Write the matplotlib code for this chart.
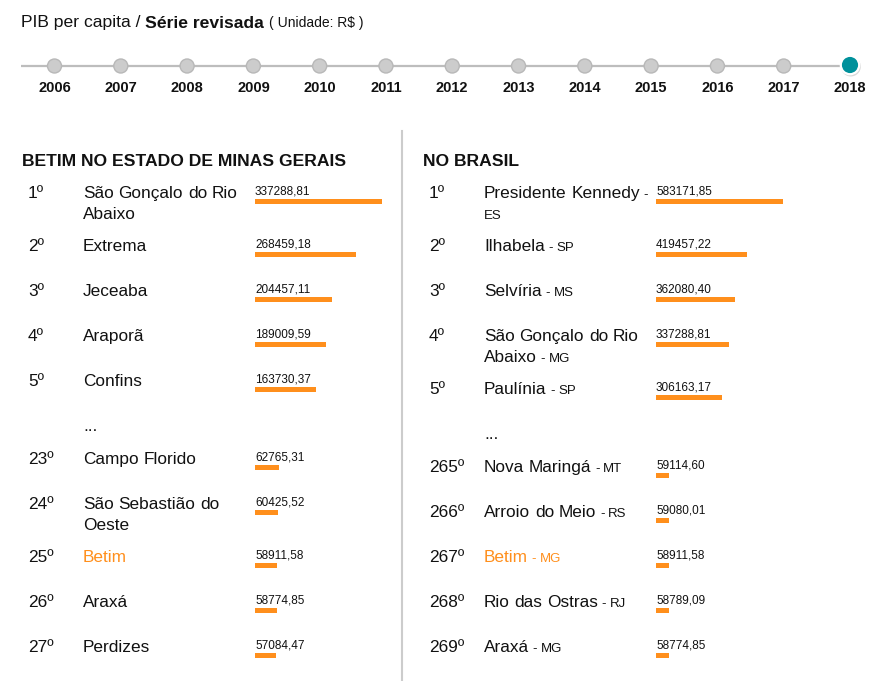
import matplotlib.pyplot as plt
from matplotlib.patches import Circle

plt.rcParams['font.family'] = ['Liberation Sans', 'DejaVu Sans']

years = [2006, 2007, 2008, 2009, 2010, 2011, 2012, 2013, 2014, 2015, 2016, 2017, 2018]
selected_year = 2018

mg_ranks = [1, 2, 3, 4, 5, 23, 24, 25, 26, 27]
mg_names = ["São Gonçalo do Rio Abaixo", "Extrema", "Jeceaba", "Araporã", "Confins",
            "Campo Florido", "São Sebastião do Oeste", "Betim", "Araxá", "Perdizes"]
mg_values = [337288.81, 268459.18, 204457.11, 189009.59, 163730.37,
             62765.31, 60425.52, 58911.58, 58774.85, 57084.47]

br_ranks = [1, 2, 3, 4, 5, 265, 266, 267, 268, 269]
br_names = ["Presidente Kennedy", "Ilhabela", "Selvíria", "São Gonçalo do Rio Abaixo", "Paulínia",
            "Nova Maringá", "Arroio do Meio", "Betim", "Rio das Ostras", "Araxá"]
br_states = ["ES", "SP", "MS", "MG", "SP", "MT", "RS", "MG", "RJ", "MG"]
br_values = [583171.85, 419457.22, 362080.40, 337288.81, 306163.17,
             59114.60, 59080.01, 58911.58, 58789.09, 58774.85]

highlight = "Betim"

ORANGE = '#ff8f1c'
TEAL = '#00919b'
INK = '#111111'

fig = plt.figure(figsize=(8.74, 6.81), dpi=100)
ax = fig.add_axes([0, 0, 1, 1])
ax.set_xlim(0, 874)
ax.set_ylim(681, 0)
ax.axis('off')
renderer = fig.canvas.get_renderer()


def put(x, y, s, size, weight='normal', color=INK, ha='left'):
    t = ax.text(x, y, s, fontsize=size, fontweight=weight, color=color, ha=ha, va='baseline')
    return x + t.get_window_extent(renderer).width


def space(size):
    return 0.278 * size * 100 / 72


# title
x = put(21, 27.5, "PIB per capita /", 12.6)
x = put(x + space(12.6), 27.5, "Série revisada", 12.6, 'bold')
put(x + space(12.6), 27.5, "( Unidade: R\\$ )", 10)

# year slider
xs = [54.5 + i * (850 - 54.5) / (len(years) - 1) for i in range(len(years))]
ax.plot([21, xs[-1]], [66, 66], color='#bdbdbd', lw=1.6, solid_capstyle='butt', zorder=1)
for xx, yr in zip(xs, years):
    if yr == selected_year:
        ax.add_patch(Circle((xx + 0.8, 66.5), 10, fc='#000000', alpha=0.15, ec='none', zorder=2))
        ax.add_patch(Circle((xx, 65), 9.2, fc=TEAL, ec='white', lw=1.6, zorder=3))
    else:
        ax.add_patch(Circle((xx, 66), 7, fc='#cccccc', ec='#b8b8b8', lw=1, zorder=2))
    put(xx, 92, str(yr), 10.5, 'bold', ha='center')

# divider
ax.plot([402, 402], [131, 681], color='#cccccc', lw=1.5)


def draw_name(x0, y, words, max_w):
    # words: list of (text, size, color); simple word wrap
    x = x0
    lines = 1
    for i, (w, size, color) in enumerate(words):
        t = ax.text(0, 0, w, fontsize=size)
        wpx = t.get_window_extent(renderer).width
        t.remove()
        if i > 0:
            if x + space(size) + wpx > x0 + max_w:
                x = x0
                y += 21
                lines += 1
            else:
                x += space(size)
        x = put(x, y, w, size, color=color)
    return lines


def draw_panel(x0, title, ranks, names, states, values):
    put(x0, 166, title, 12.6, 'bold')
    vmax = max(values)
    y = 198
    for i in range(len(ranks)):
        if i > 0 and ranks[i] - ranks[i - 1] > 1:
            put(x0 + 61, y, "...", 12.4)
            y += 33
        color = ORANGE if names[i] == highlight else INK
        put(x0 + 6, y, f"{ranks[i]}º", 12.4)
        words = [(w, 12.4, color) for w in names[i].split()]
        if states is not None:
            words += [("-", 9.5, color), (states[i], 9.5, color)]
        lines = draw_name(x0 + 61, y, words, 172)
        put(x0 + 233, y - 3.3, f"{values[i]:.2f}".replace('.', ','), 8.5)
        ax.barh(y + 3.3, values[i] / vmax * 126.5, left=x0 + 233, height=4.5,
                color=ORANGE, edgecolor='none')
        y += 45 + 8 * (lines - 1)


draw_panel(22, "BETIM NO ESTADO DE MINAS GERAIS", mg_ranks, mg_names, None, mg_values)
draw_panel(423, "NO BRASIL", br_ranks, br_names, br_states, br_values)

fig.savefig("out.png", dpi=100)
